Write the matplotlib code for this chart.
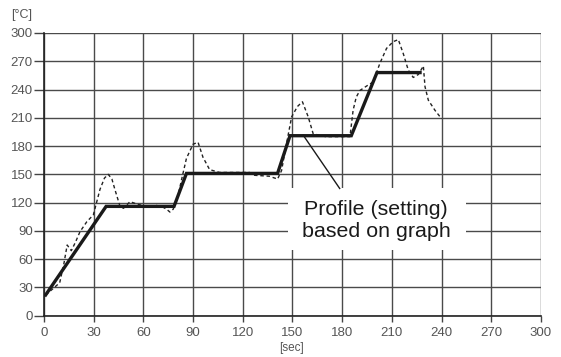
import numpy as np
import matplotlib.pyplot as plt
from matplotlib.patches import Rectangle

plt.rcParams['font.family'] = ['Liberation Sans', 'DejaVu Sans']

# Profil setelan (garis tebal)
profile_x = [1, 37.5, 78.5, 86, 141, 148.5, 185.5, 201, 227]
profile_y = [22, 116, 116, 151, 151, 191, 191, 258, 258]

# Suhu terukur (garis putus-putus)
measured_x = [1, 5, 9.5, 12, 14, 16.5, 19, 21.7, 25.8, 29.8, 33.8, 36.5, 38.8, 41, 42.8,
              45.9, 48, 51.9, 57, 62, 68, 72, 74, 76, 78, 79, 81, 83, 86, 90, 93,
              96, 100, 106, 115, 124, 127, 136, 141, 143.4, 146.4, 149.5, 153, 156,
              159.5, 162.5, 170, 178, 184.7, 186.6, 188.5, 190.7, 195, 198.7, 202.8,
              206.8, 210.8, 213.9, 216.9, 219.9, 222.9, 226, 229, 230, 232, 236, 240]
measured_y = [22, 28, 35, 55, 75, 69, 78, 89, 99.6, 107, 134, 146, 150, 145, 134,
              116, 114, 121, 118, 116, 117, 115, 113, 110, 113, 118, 128, 144, 167, 182, 184,
              168, 155, 152, 152, 152, 149, 148, 145, 154, 182.7, 211, 222, 227,
              211, 193, 190, 190, 190, 218, 232, 239, 244, 248, 268,
              283.7, 290.8, 293, 278, 260.6, 252.8, 256, 265, 243, 228.7, 218, 209]

xticks = np.arange(0, 301, 30)
yticks = np.arange(0, 301, 30)

fig = plt.figure(figsize=(5.61, 3.57), dpi=100)
ax = fig.add_axes([0.0784, 0.1157, 0.8859, 0.7919])

ax.set_xlim(0, 300)
ax.set_ylim(0, 300)
ax.set_xticks(xticks)
ax.set_yticks(yticks)
ax.grid(True, color='#4a4a4a', linewidth=1.0)
ax.set_axisbelow(True)
for s in ['top', 'right']:
    ax.spines[s].set_visible(False)
for s in ['left', 'bottom']:
    ax.spines[s].set_color('#222222')
    ax.spines[s].set_linewidth(1.2)
ax.tick_params(axis='y', length=7, width=1, color='#444444', labelcolor='#555555', labelsize=9.5, pad=1)
ax.tick_params(axis='x', length=4, width=1, color='#444444', labelcolor='#555555', labelsize=9.5, pad=4)

ax.plot(measured_x, measured_y, color='#222222', linewidth=1.0, linestyle=(0, (2.5, 2)), zorder=3)
ax.plot(profile_x, profile_y, color='#1a1a1a', linewidth=2.4, solid_joinstyle='miter', zorder=3)

# Keterangan (kotak putih menutupi garis grid)
ax.add_patch(Rectangle((147.3, 70.2), 107.4, 64.9, facecolor='white', edgecolor='none', zorder=2))
ax.text(200.4, 101.5, 'Profile (setting)\nbased on graph', ha='center', va='center',
        fontsize=15.4, color='#1a1a1a', linespacing=1.2, zorder=4)
ax.plot([156.5, 178.5], [191.5, 135], color='#1a1a1a', linewidth=1.0, zorder=3)

fig.text(11 / 561, 1 - 15 / 357, '[°C]', fontsize=9, color='#555555', va='center', ha='left')
fig.text(292 / 561, 1 - 348 / 357, '[sec]', fontsize=8.5, color='#555555', va='center', ha='center')

fig.savefig('out.png', dpi=100)
